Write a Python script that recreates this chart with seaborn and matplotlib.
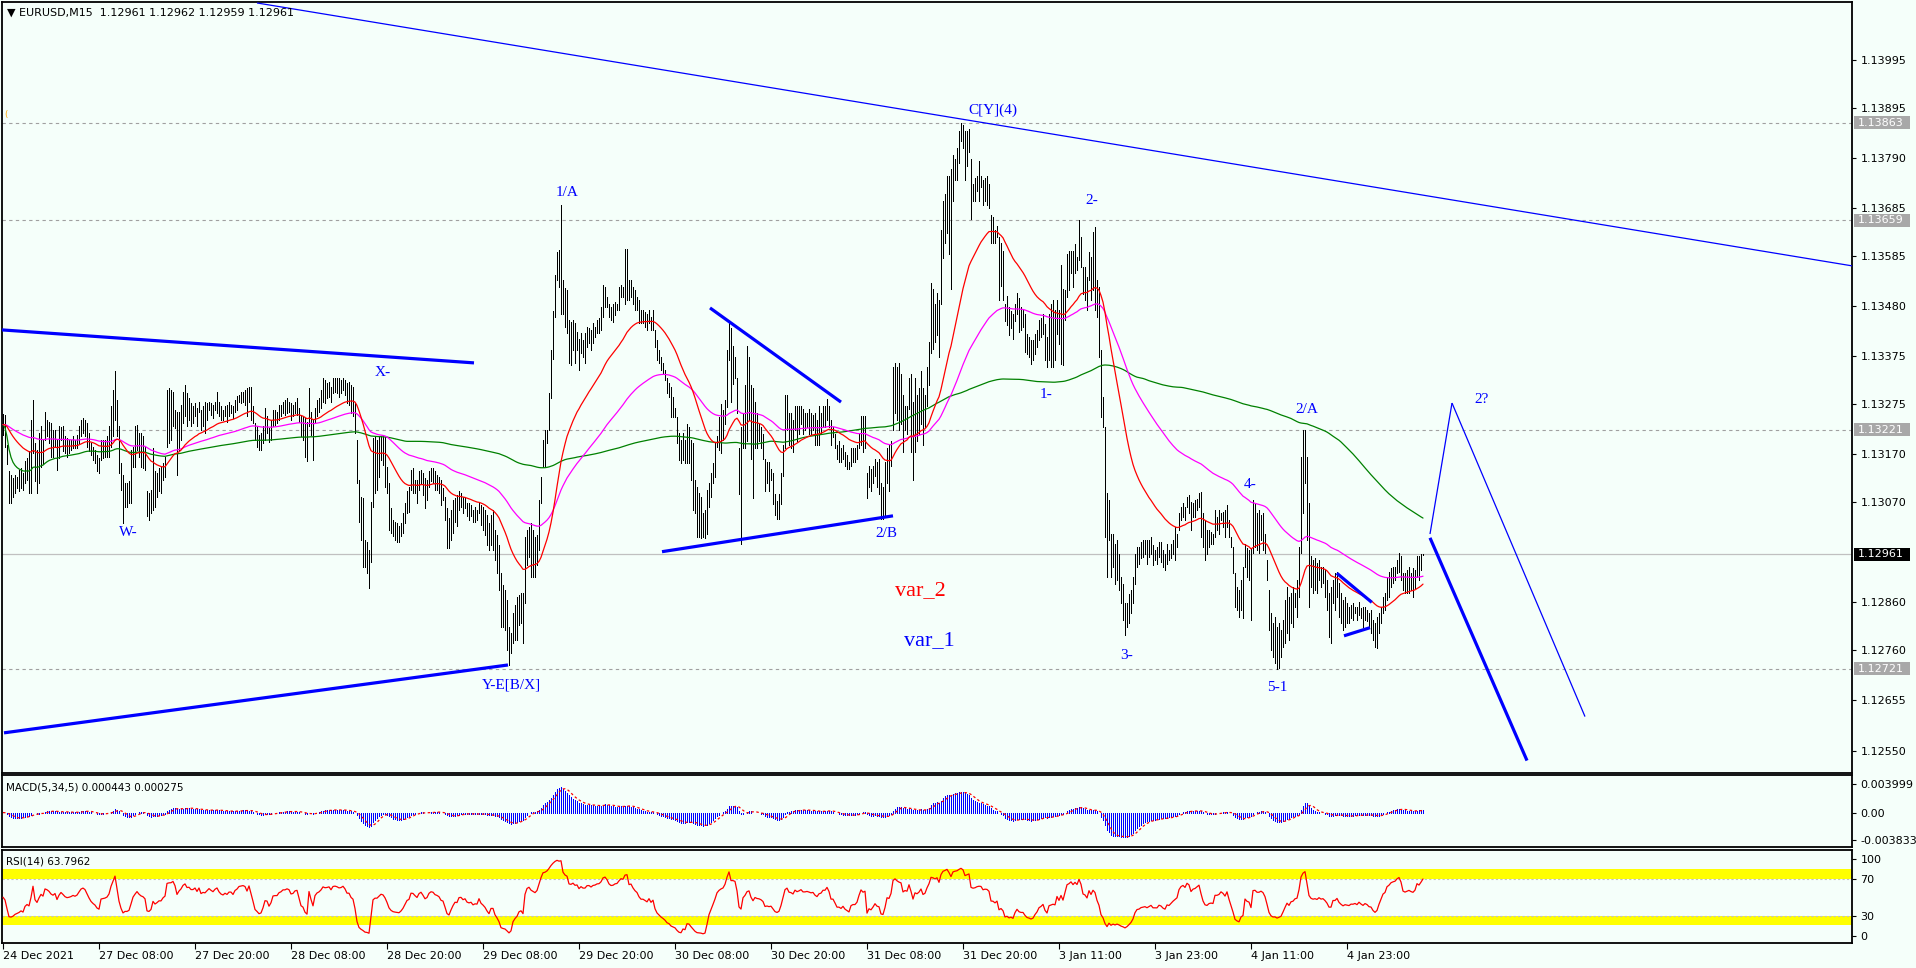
import numpy as np
import pandas as pd
import matplotlib
matplotlib.use("Agg")
import matplotlib.pyplot as plt
from matplotlib.patches import Rectangle
import seaborn as sns

sns.set_theme(style="white")
plt.rcParams["font.family"] = ["DejaVu Sans"]

BG = "#F5FFFA"

# ---------------- data ----------------
price_base = 1.12000  # EURUSD, values below are in points (1e-5) above this base

high_pts = [
    1254,1252,1189,1134,1127,1120,1127,1123,1137,1141,
    1130,1155,1162,1176,1242,1284,1193,1179,1214,1228,
    1200,1259,1242,1238,1235,1221,1221,1200,1228,1226,
    1228,1207,1203,1200,1200,1207,1200,1210,1228,1242,
    1245,1242,1235,1214,1193,1186,1179,1169,1162,1200,
    1200,1200,1207,1228,1270,1304,1343,1284,1228,1151,
    1127,1109,1109,1113,1179,1186,1228,1231,1214,1214,
    1207,1186,1092,1088,1095,1183,1134,1130,1141,1144,
    1151,1165,1304,1308,1304,1301,1263,1259,1259,1273,
    1301,1315,1297,1287,1277,1270,1277,1266,1280,1263,
    1270,1280,1277,1280,1277,1273,1280,1301,1280,1270,
    1263,1270,1273,1280,1273,1270,1284,1291,1294,
    1301,1301,1304,1308,1311,1311,1270,1235,1228,1210,
    1214,1228,1266,1249,1224,1242,1263,1263,1259,1273,
    1273,1280,1284,1287,1280,1277,1273,1280,1287,1266,
    1252,1249,1245,1238,1308,1259,1242,1266,1284,1287,
    1304,1329,1325,1318,1322,1311,1329,1329,1329,1329,
    1325,1329,1325,1318,1322,1315,1311,1277,1200,1116,
    1081,1078,991,987,970,1071,1203,1207,1200,1207,
    1207,1207,1207,1144,1109,1057,1033,1029,1026,1019,
    1026,1047,1067,1092,1102,1137,1141,1116,1116,1134,
    1137,1130,1120,1116,1134,1141,1141,1134,1127,1123,
    1116,1099,1081,1057,1036,1054,1074,1078,1085,1092,
    1088,1081,1078,1067,1067,1064,1054,1060,1054,1071,
    1064,1060,1053,1043,1026,1043,1053,1012,1001,980,
    922,897,886,865,809,796,838,855,872,876,
    880,880,997,1012,1018,1026,1012,997,1001,1074,
    1122,1200,1221,1221,1298,1388,1470,1545,1594,1597,
    1691,1534,1517,1513,1450,1447,1450,1444,1426,1412,
    1423,1409,1423,1437,1433,1430,1444,1437,1450,1454,
    1478,1524,1520,1499,1485,1478,1485,1489,1485,1520,
    1524,1520,1600,1600,1534,1534,1520,1513,1499,1492,
    1471,1471,1468,1464,1471,1457,1471,1430,1409,1388,
    1374,1360,1346,1329,1318,1311,1290,1266,1248,1214,
    1200,1214,1200,1234,1227,1200,1193,1116,1102,1088,
    1081,1046,1053,1095,1109,1130,1151,1193,1207,1248,
    1276,1262,1283,1388,1444,
    1434,1397,1374,1330,1183,1227,1256,1315,1397,1374,
    1315,1308,1279,1256,1234,1227,1212,1160,1153,1153,
    1138,1131,1087,1072,1087,1131,1190,1293,1293,1256,
    1256,1242,1271,1271,1271,1271,1264,1256,1256,1264,
    1256,1253,1256,1242,1271,1256,1271,1271,1286,1271,
    1242,1227,1212,1190,1197,1183,1190,1175,1168,1153,
    1183,1183,1183,1190,1212,1249,1249,1249,1131,1146,
    1138,1146,1160,1153,1160,1109,1101,1153,1183,1190,
    1197,1352,1360,1352,1360,1338,1293,1271,1271,1330,
    1338,1279,1330,1293,1308,1345,1308,1293,1352,1404,
    1529,1515,1485,1507,1493,1640,1699,1714,1751,1751,
    1766,1795,1788,1810,1847,1863,1858,1847,1847,1851,
    1788,1736,1747,1751,1784,1751,1743,1747,1751,1736,
    1670,1666,1640,1648,1625,1611,1596,1485,1500,1478,
    1470,1463,1485,1507,1496,
    1478,1471,1464,1422,1415,1408,1408,1422,1429,1450,
    1454,1464,1443,1415,1464,1485,1492,1471,1492,1471,
    1565,1516,1513,1589,1596,1596,1596,1610,1582,1660,
    1624,1562,1562,1541,1593,1582,1635,1645,1534,1520,
    1387,1290,1227,1088,1074,1004,1004,983,990,962,
    913,899,858,858,878,886,913,962,976,976,
    987,990,990,990,990,997,980,969,976,987,
    987,969,962,983,969,983,990,1018,1004,1046,
    1060,1067,1060,1081,1084,1070,1067,1074,1077,1088,
    1091,1046,1032,1011,1011,1008,1004,1053,1039,1053,
    1046,1050,1053,1064,1032,997,976,921,893,886,
    907,935,983,973,970,973,1074,1067,1046,1053,
    1043,1046,1004,949,886,837,816,830,809,816,
    802,823,865,893,872,879,893,879,907,976,
    1165,1221,1221,1165,1067,956,949,952,942,949,
    935,935,928,907,879,893,907,921,924,900,
    879,865,872,858,851,855,858,851,851,861,
    848,851,851,844,837,844,823,816,830,837,
    851,872,879,914,924,931,935,935,949,963,
    956,921,921,928,935,921,931,928,956,956,
    961,962,
]

low_pts = [
    1210,1186,1150,1067,1067,1081,1088,1099,1092,1099,
    1095,1109,1116,1088,1088,1172,1113,1088,1109,1144,
    1150,1200,1207,1193,1165,1165,1186,1137,1162,1200,
    1176,1172,1165,1172,1179,1183,1183,1183,1193,1207,
    1214,1207,1186,1176,1169,1158,1151,1134,1130,1158,
    1162,1165,1165,1165,1186,1207,1242,1207,1130,1095,
    1026,1060,1060,1067,1067,1144,1144,1179,1165,1144,
    1141,1137,1040,1033,1047,1054,1060,1081,1092,1088,
    1116,1123,1186,1193,1200,1228,1224,1127,1179,1200,
    1235,1249,1228,1242,1228,1235,1249,1228,1259,1221,
    1228,1214,1242,1263,1252,1245,1263,1256,1249,1242,
    1242,1249,1238,1249,1256,1245,1259,1263,1280,
    1277,1280,1273,1249,1280,1242,1235,1200,1186,1179,
    1179,1193,1200,1214,1196,1200,1228,1231,1235,1242,
    1249,1256,1252,1256,1259,1242,1249,1256,1252,1238,
    1207,1200,1165,1155,1228,1210,1158,1235,1249,1259,
    1266,1280,1277,1287,1290,1280,1297,1301,1297,1290,
    1297,1304,1294,1277,1273,1256,1249,1214,1109,1029,
    991,935,935,921,890,945,1060,1088,1095,1123,
    1158,1148,1102,1088,1012,1005,998,991,987,987,
    998,1005,1026,1047,1050,1095,1088,1088,1067,1095,
    1109,1085,1057,1074,1102,1113,1109,1095,1095,1088,
    1064,1074,1033,973,973,991,1005,1029,1019,1054,
    1060,1047,1057,1040,1033,1040,1029,1029,1033,1047,
    1022,1012,1001,980,970,980,970,949,922,886,
    809,809,803,761,729,755,775,782,782,813,
    817,775,859,939,955,913,913,913,939,970,
    1068,1144,1144,1193,1221,1288,1370,1457,1534,1520,
    1464,1464,1437,1423,1360,1356,1388,1360,1388,1346,
    1381,1374,1360,1395,1402,1388,1402,1416,1423,1423,
    1430,1457,1478,1478,1457,1450,1447,1461,1471,1471,
    1499,1499,1485,1492,1492,1499,1485,1471,1471,1444,
    1444,1444,1437,1430,1444,1430,1430,1395,1367,1360,
    1346,1339,1325,1297,1290,1248,1248,1248,1193,1158,
    1151,1158,1151,1151,1151,1116,1053,1046,997,997,
    994,997,994,1004,1060,1081,1109,1123,1186,1179,
    1172,1200,1234,1269,1367,
    1279,1316,1330,1256,1087,983,1183,1183,1197,1242,
    1160,1079,1183,1183,1197,1183,1160,1094,1109,1094,
    1116,1065,1042,1035,1035,1065,1124,1183,1220,1190,
    1183,1175,1220,1197,1212,1234,1212,1220,1227,1212,
    1212,1220,1190,1190,1190,1212,1227,1227,1242,1227,
    1190,1205,1183,1160,1153,1153,1160,1146,1138,1138,
    1146,1153,1153,1160,1183,1190,1175,1183,1079,1101,
    1094,1109,1124,1101,1087,1035,1035,1039,1109,1094,
    1146,1220,1256,1242,1220,1234,1175,1220,1212,1264,
    1175,1116,1175,1197,1212,1234,1190,1227,1271,1315,
    1382,1389,1404,1419,1374,1485,1581,1611,1633,1588,
    1515,1699,1743,1743,1780,1825,1810,1743,1773,1803,
    1662,1699,1699,1721,1699,1729,1692,1699,1692,1684,
    1611,1611,1611,1625,1493,1522,1493,1448,1441,1419,
    1434,1411,1448,1463,1426,
    1429,1436,1384,1380,1373,1359,1366,1380,1394,1408,
    1415,1422,1366,1352,1366,1352,1352,1366,1422,1401,
    1359,1356,1450,1499,1513,1548,1520,1548,1555,1576,
    1562,1506,1492,1471,1534,1492,1513,1471,1457,1373,
    1248,1227,997,913,990,913,934,899,906,886,
    858,823,791,809,816,837,858,899,934,941,
    952,955,962,941,955,962,938,948,941,955,
    945,934,927,941,948,952,962,948,976,1011,
    1032,1039,1032,1060,1046,1011,1039,1039,1053,1060,
    997,976,948,962,976,983,983,997,1011,1004,
    1032,1018,997,1018,997,976,921,851,844,830,
    844,827,935,914,907,823,963,976,970,963,
    990,970,963,907,802,760,746,733,721,722,
    746,767,774,795,781,816,809,851,830,872,
    963,1046,1109,990,851,893,879,886,879,907,
    893,900,872,844,788,774,858,844,872,830,
    816,802,809,816,816,827,823,837,823,834,
    827,809,823,820,806,795,781,767,764,795,
    816,837,844,865,872,893,900,907,921,924,
    907,886,879,879,879,886,872,890,914,907,
    928,959,
]

date_labels = ["24 Dec 2021", "27 Dec 08:00", "27 Dec 20:00", "28 Dec 08:00",
               "28 Dec 20:00", "29 Dec 08:00", "29 Dec 20:00", "30 Dec 08:00",
               "30 Dec 20:00", "31 Dec 08:00", "31 Dec 20:00", "3 Jan 11:00",
               "3 Jan 23:00", "4 Jan 11:00", "4 Jan 23:00"]
bars_per_label = 48

price_ticks = [1.13995, 1.13895, 1.13790, 1.13685, 1.13585, 1.13480, 1.13375,
               1.13275, 1.13170, 1.13070, 1.12860, 1.12760, 1.12655, 1.12550]
level_prices = [1.13863, 1.13659, 1.13221, 1.12721]
bid_price = 1.12961

macd_ticks = [0.003999, 0.0, -0.003833]
macd_tick_labels = ["0.003999", "0.00", "-0.003833"]

# analyst drawings: (bar0, price0, bar1, price1, thick?)
trend_lines = [
    (127.0, 1.14114, 924.5, 1.13564, False),
    (-0.5, 1.13430, 235.5, 1.13361, True),
    (0.5, 1.12587, 252.5, 1.12729, True),
    (353.5, 1.13476, 419.0, 1.13279, True),
    (329.5, 1.12966, 445.0, 1.13041, True),
    (666.9, 1.12921, 684.4, 1.12860, True),
    (670.5, 1.12790, 683.5, 1.12807, True),
    (713.5, 1.13003, 724.5, 1.13277, False),
    (724.5, 1.13277, 791.0, 1.12621, False),
    (713.5, 1.12995, 762.0, 1.12529, True),
]

wave_labels = [  # (text, bar, price, colour, size)
    ("W-", 62.5, 1.13007, "#0000FF", 11),
    ("X-", 189.8, 1.13341, "#0000FF", 11),
    ("Y-E[B/X]", 254.0, 1.12688, "#0000FF", 11),
    ("1/A", 282.3, 1.13718, "#0000FF", 11),
    ("2/B", 441.8, 1.13004, "#0000FF", 11),
    ("C[Y](4)", 495.0, 1.13889, "#0000FF", 11),
    ("2-", 544.5, 1.13700, "#0000FF", 11),
    ("1-", 521.3, 1.13294, "#0000FF", 11),
    ("3-", 561.8, 1.12748, "#0000FF", 11),
    ("4-", 623.8, 1.13106, "#0000FF", 11),
    ("2/A", 651.8, 1.13264, "#0000FF", 11),
    ("5-1", 637.0, 1.12681, "#0000FF", 11),
    ("2?", 739.5, 1.13284, "#0000FF", 11),
    ("var_2", 458.5, 1.12884, "#FF0000", 16),
    ("var_1", 463.0, 1.12780, "#0000FF", 16),
]

# ---------------- derived series ----------------
n = min(len(high_pts), len(low_pts))
hi = price_base + np.array(high_pts[:n], dtype=float) / 1e5
lo = price_base + np.array(low_pts[:n], dtype=float) / 1e5
bars = np.arange(n)
med = pd.Series((hi + lo) / 2.0)

df = pd.DataFrame({"bar": bars, "high": hi, "low": lo})
df["ma_red"] = med.ewm(span=34, adjust=False).mean()
df["ma_mag"] = med.ewm(span=89, adjust=False).mean()
df["ma_green"] = med.rolling(200, min_periods=1).mean()
macd = med.ewm(span=5, adjust=False).mean() - med.ewm(span=34, adjust=False).mean()
df["macd"] = macd
df["signal"] = macd.rolling(5, min_periods=1).mean()

# RSI(14), Wilder smoothing seeded neutrally with the mean absolute move
delta = med.diff().fillna(0.0).to_numpy()
seed = np.abs(delta[1:15]).mean() / 2.0
ag, al = seed, seed
rsi_vals = []
for d in delta:
    ag = (ag * 13 + max(d, 0.0)) / 14
    al = (al * 13 + max(-d, 0.0)) / 14
    rsi_vals.append(100.0 if al == 0 else 100 - 100 / (1 + ag / al))
df["rsi"] = rsi_vals

# ---------------- figure ----------------
W, H = 1916, 968
fig = plt.figure(figsize=(W / 100, H / 100), dpi=100, facecolor=BG)

def fpos(x0, y0, x1, y1):
    return [x0 / W, 1 - y1 / H, (x1 - x0) / W, (y1 - y0) / H]

ax = fig.add_axes(fpos(2, 2, 1852, 773))
axm = fig.add_axes(fpos(2, 775, 1852, 847))
axr = fig.add_axes(fpos(2, 850, 1852, 943))

XL = (-0.5, 924.5)
for a in (ax, axm, axr):
    a.set_facecolor(BG)
    a.set_xlim(*XL)
    for s in a.spines.values():
        s.set_color("black")
        s.set_linewidth(1.3)
        s.set_visible(True)
    a.yaxis.tick_right()
    a.tick_params(axis="y", direction="out", length=3, width=0.8, colors="black",
                  labelsize=8, pad=3, right=True, left=False)
    a.grid(False)

ax.set_ylim(1.12503, 1.14116)
axm.set_ylim(-0.0048, 0.00524)
axr.set_ylim(0.5, 101.0)

# level lines
for p in level_prices:
    ax.axhline(p, color="#A0A0A0", lw=0.8, ls=(0, (3, 3)), zorder=1)
ax.axhline(bid_price, color="#C0C0C0", lw=0.9, zorder=1)

# price bars
ax.vlines(df["bar"], df["low"], df["high"], color="black", lw=0.72,
          antialiased=False, zorder=2)

# moving averages
sns.lineplot(data=df, x="bar", y="ma_green", ax=ax, color="#008000", lw=0.9,
             legend=False, estimator=None, sort=False, zorder=3)
sns.lineplot(data=df, x="bar", y="ma_mag", ax=ax, color="#FF00FF", lw=0.9,
             legend=False, estimator=None, sort=False, zorder=3)
sns.lineplot(data=df, x="bar", y="ma_red", ax=ax, color="#FF0000", lw=0.9,
             legend=False, estimator=None, sort=False, zorder=3)

# trend lines
for b0, p0, b1, p1, thick in trend_lines:
    ax.plot([b0, b1], [p0, p1], color="#0000FF", lw=2.3 if thick else 0.9,
            solid_capstyle="butt", zorder=4, clip_on=True)

# wave labels
for txt, b, p, c, s in wave_labels:
    ax.text(b, p, txt, color=c, fontsize=s, ha="center", va="center",
            family=["Liberation Serif", "DejaVu Serif"], zorder=5)
ax.text(0.8, 1.13880, "(", color="#FFA500", fontsize=6, ha="left", va="center")

ax.set_yticks(price_ticks)
ax.set_yticklabels([f"{p:.5f}" for p in price_ticks])
ax.set_xticks([])
ax.set_xlabel("")
ax.set_ylabel("")

# MACD panel
axm.vlines(df["bar"], 0, df["macd"], color="#0000FF", lw=0.72,
           antialiased=False, zorder=2)
axm.plot(df["bar"], df["signal"], color="#FF0000", lw=0.9, ls=(0, (2, 2)), zorder=3)
axm.set_yticks(macd_ticks)
axm.set_yticklabels(macd_tick_labels)
axm.set_xticks([])
axm.set_xlabel("")
axm.set_ylabel("")

# RSI panel
axr.axhspan(70, 80, color="#FFFF00", lw=0, zorder=0)
axr.axhspan(20, 30, color="#FFFF00", lw=0, zorder=0)
axr.axhline(70, color="#C0C0C0", lw=0.8, ls=(0, (2, 2)), zorder=1)
axr.axhline(30, color="#C0C0C0", lw=0.8, ls=(0, (2, 2)), zorder=1)
sns.lineplot(data=df, x="bar", y="rsi", ax=axr, color="#FF0000", lw=0.9,
             legend=False, estimator=None, sort=False, zorder=3)
axr.set_yticks([91.3, 70, 30, 8.1])
axr.set_yticklabels(["100", "70", "30", "0"])
axr.set_xlabel("")
axr.set_ylabel("")
tick_bars = list(range(0, bars_per_label * len(date_labels), bars_per_label))
axr.set_xticks(tick_bars)
axr.set_xticklabels(date_labels, ha="left")
axr.tick_params(axis="x", direction="out", length=4, width=0.8, labelsize=8,
                pad=2, bottom=True, colors="black")
for lbl in axr.get_xticklabels():
    lbl.set_horizontalalignment("left")

# panel captions
fig.text(7 / W, 1 - 13 / H, "\u25BC EURUSD,M15  1.12961 1.12962 1.12959 1.12961",
         fontsize=8, va="center", ha="left", color="black")
fig.text(6 / W, 1 - 787 / H, "MACD(5,34,5) 0.000443 0.000275",
         fontsize=7.5, va="center", ha="left", color="black")
fig.text(6 / W, 1 - 862 / H, "RSI(14) 63.7962",
         fontsize=7.5, va="center", ha="left", color="black")

# right-side price boxes
def price_box(price, face):
    y_disp = ax.transData.transform((0, price))[1]
    yc = y_disp / H
    fig.add_artist(Rectangle((1854 / W, yc - 6.5 / H), 56 / W, 13 / H,
                             transform=fig.transFigure, facecolor=face,
                             edgecolor="none", zorder=10))
    fig.text(1858 / W, yc, f"{price:.5f}", color="white", fontsize=8,
             va="center", ha="left", zorder=11)

for p in level_prices:
    price_box(p, "#A8A8A8")
price_box(bid_price, "#000000")

fig.savefig("out.png", dpi=100, facecolor=BG)
